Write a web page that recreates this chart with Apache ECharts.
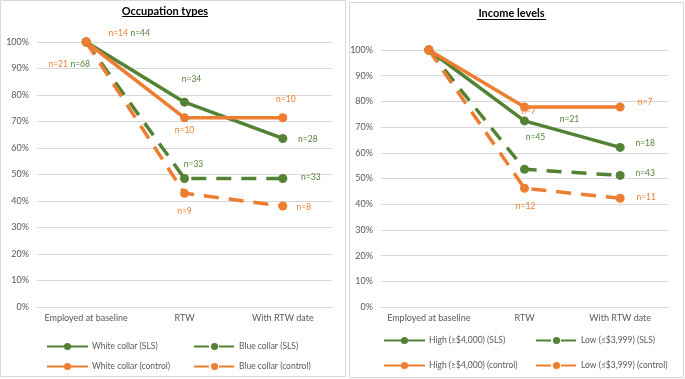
<!DOCTYPE html>
<html>
<head>
<meta charset="utf-8">
<script src="https://cdn.jsdelivr.net/npm/echarts@6/dist/echarts.min.js"></script>
<style>
html,body{margin:0;padding:0;background:#fff;}
#c{width:685px;height:379px;}
</style>
</head>
<body>
<div id="c"></div>
<script>
// ---- data ----
const categories = ['Employed at baseline', 'RTW', 'With RTW date'];
const yTicks = [0, 10, 20, 30, 40, 50, 60, 70, 80, 90, 100];
const titles = ['Occupation types', 'Income levels'];

// Occupation types (% still employed)
const occWhiteSLS = [100, 77.3, 63.6];
const occBlueSLS = [100, 48.5, 48.5];
const occWhiteCtrl = [100, 71.4, 71.4];
const occBlueCtrl = [100, 42.9, 38.1];
const occWhiteSLSn = ['n=44', 'n=34', 'n=28'];
const occBlueSLSn = ['n=68', 'n=33', 'n=33'];
const occWhiteCtrln = ['n=14', 'n=10', 'n=10'];
const occBlueCtrln = ['n=21', 'n=9', 'n=8'];

// Income levels
const incHighSLS = [100, 72.4, 62.1];
const incLowSLS = [100, 53.6, 51.2];
const incHighCtrl = [100, 77.8, 77.8];
const incLowCtrl = [100, 46.2, 42.3];
const incHighSLSn = ['', 'n=21', 'n=18'];
const incLowSLSn = ['', 'n=45', 'n=43'];
const incHighCtrln = ['', 'n=7', 'n=7'];
const incLowCtrln = ['', 'n=12', 'n=11'];

// ---- styling / layout ----
const GREEN = '#548235';
const ORANGE = '#ED7D31';
const FONT = 'Lato, "Liberation Sans", sans-serif';

function buildData(values, labels, offsets, color) {
  return values.map((v, i) => ({
    value: v,
    label: {
      show: !!labels[i],
      formatter: labels[i],
      position: 'inside',
      offset: offsets[i],
      color: color,
      fontSize: 8.5,
      fontFamily: FONT
    }
  }));
}

function mkSeries(name, values, labels, offsets, color, dashed, gi) {
  return {
    type: 'line',
    name: name,
    xAxisIndex: gi,
    yAxisIndex: gi,
    data: buildData(values, labels, offsets, color),
    symbol: 'circle',
    symbolSize: 9,
    showSymbol: true,
    color: color,
    itemStyle: { color: color },
    lineStyle: { color: color, width: 3.5, type: dashed ? [15, 10] : 'solid', cap: 'butt' },
    emphasis: { disabled: true },
    z: 2
  };
}

const gridLine = '#d9d9d9';
const labelGray = '#595959';

function xAxis(gi) {
  return {
    type: 'category', gridIndex: gi, data: categories, boundaryGap: true,
    axisLine: { show: true, lineStyle: { color: gridLine, width: 1 } },
    axisTick: { show: false },
    axisLabel: { color: labelGray, fontSize: 9, fontFamily: FONT, margin: 7, interval: 0 }
  };
}
function yAxis(gi) {
  return {
    type: 'value', gridIndex: gi, min: yTicks[0], max: yTicks[yTicks.length - 1], interval: 10,
    axisLine: { show: false }, axisTick: { show: false },
    splitLine: { lineStyle: { color: gridLine, width: 1 } },
    axisLabel: { color: labelGray, fontSize: 9, fontFamily: FONT, margin: 8, formatter: '{value}%' }
  };
}

function legendCol(names, left, top, gap) {
  return {
    data: names, orient: 'vertical', left: left, top: top, itemGap: gap,
    itemWidth: 41, itemHeight: 9, padding: 0,
    textStyle: { color: labelGray, fontSize: 8.5, fontFamily: FONT, padding: [0, 0, 0, -1] },
    selectedMode: false
  };
}

function titleText(text, x, y) {
  return { type: 'text', x: x, y: y, z: 10,
    style: { text: text, align: 'center', verticalAlign: 'middle', fill: '#000',
      font: 'bold 11px ' + FONT } };
}

const chart = echarts.init(document.getElementById('c'), null, { renderer: 'canvas' });
chart.setOption({
  animation: false,
  backgroundColor: '#fff',
  textStyle: { fontFamily: FONT },
  grid: [
    { left: 37, top: 42, width: 295, height: 265 },
    { left: 381, top: 50, width: 287, height: 257 }
  ],
  xAxis: [xAxis(0), xAxis(1)],
  yAxis: [yAxis(0), yAxis(1)],
  legend: [
    legendCol(['White collar (SLS)', 'White collar (control)'], 46, 342, 11),
    legendCol(['Blue collar (SLS)', 'Blue collar (control)'], 193, 342, 11),
    legendCol(['High (≥$4,000) (SLS)', 'High (≥$4,000) (control)'], 383, 336, 16),
    legendCol(['Low (≤$3,999) (SLS)', 'Low (≤$3,999) (control)'], 535, 336, 16)
  ],
  series: [
    mkSeries('White collar (SLS)', occWhiteSLS, occWhiteSLSn, [[54, -9], [7, -23], [25, 1]], GREEN, false, 0),
    mkSeries('Blue collar (SLS)', occBlueSLS, occBlueSLSn, [[-6, 22], [9, -14], [28, -1]], GREEN, true, 0),
    mkSeries('White collar (control)', occWhiteCtrl, occWhiteCtrln, [[32, -9], [0, 12], [3, -19]], ORANGE, false, 0),
    mkSeries('Blue collar (control)', occBlueCtrl, occBlueCtrln, [[-28, 22], [0, 18], [21, 1]], ORANGE, true, 0),
    mkSeries('High (≥$4,000) (SLS)', incHighSLS, incHighSLSn, [[0, 0], [45, -2], [25, -4]], GREEN, false, 1),
    mkSeries('Low (≤$3,999) (SLS)', incLowSLS, incLowSLSn, [[0, 0], [11, -32], [25, -2]], GREEN, true, 1),
    mkSeries('High (≥$4,000) (control)', incHighCtrl, incHighCtrln, [[0, 0], [4, 4], [25, -5]], ORANGE, false, 1),
    mkSeries('Low (≤$3,999) (control)', incLowCtrl, incLowCtrln, [[0, 0], [1, 18], [26, -1]], ORANGE, true, 1)
  ],
  graphic: [
    { type: 'rect', shape: { x: 0.5, y: 0.5, width: 345, height: 376 }, style: { fill: 'none', stroke: '#d9d9d9', lineWidth: 1 }, z: -1 },
    { type: 'rect', shape: { x: 349.5, y: 2.5, width: 334, height: 375 }, style: { fill: 'none', stroke: '#d9d9d9', lineWidth: 1 }, z: -1 },
    titleText(titles[0], 165, 11),
    titleText(titles[1], 511.5, 13.5),
    { type: 'line', shape: { x1: 122, y1: 16.5, x2: 208, y2: 16.5 }, style: { stroke: '#000', lineWidth: 1 } },
    { type: 'line', shape: { x1: 477, y1: 19.5, x2: 546, y2: 19.5 }, style: { stroke: '#000', lineWidth: 1 } }
  ]
});
</script>
</body>
</html>
